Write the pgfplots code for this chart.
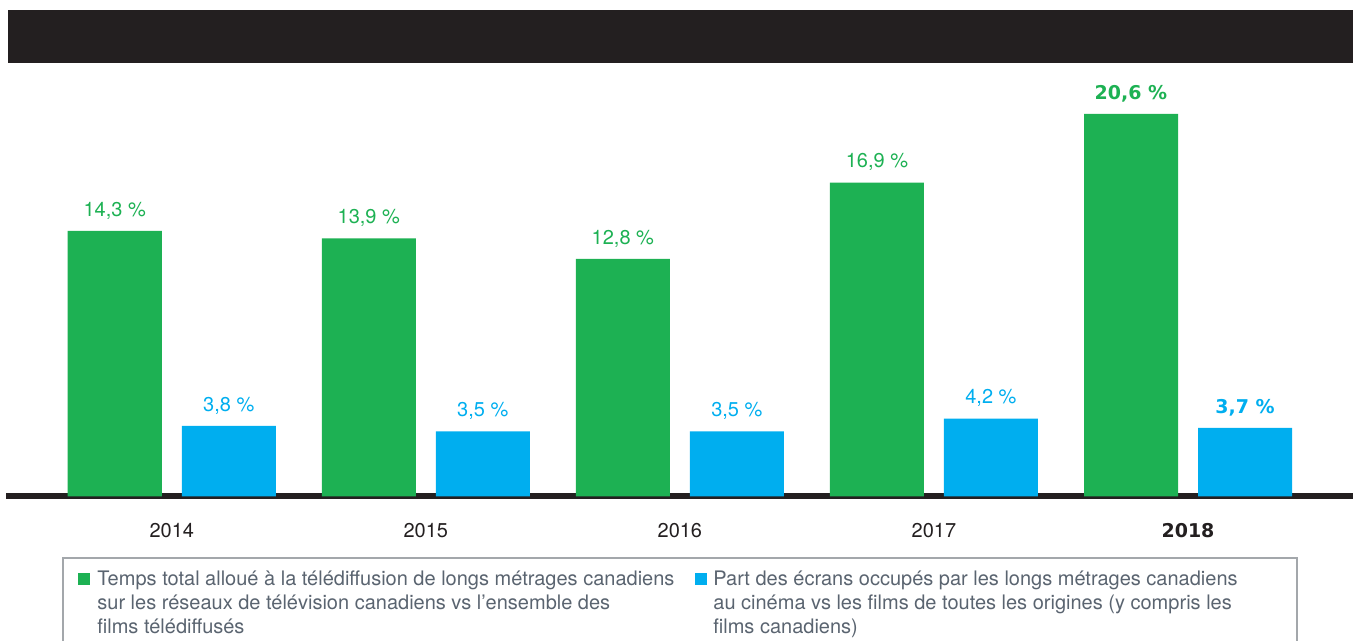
\documentclass[border=0pt]{standalone}
\usepackage{fontspec}
\setmainfont{TeX Gyre Heros}
\newfontfamily\heavy{DejaVu Sans}
\newcommand{\hv}[1]{{\heavy\bfseries\fontsize{9.5}{11}\selectfont #1}}
\usepackage{pgfplots}
\pgfplotsset{compat=1.18}
\definecolor{cgreen}{HTML}{1DB153}
\definecolor{cblue}{HTML}{00AEEF}
\definecolor{cblack}{HTML}{231F20}
\definecolor{lgray}{HTML}{A3A7AB}
\definecolor{ltext}{HTML}{5A6470}
\begin{document}
\begin{tikzpicture}
\begin{axis}[
  at={(0,0)}, anchor=south west,
  scale only axis, width=673.5pt, height=243.25pt,
  xmin=-0.6524, xmax=4.6495, ymin=0, ymax=26.198,
  axis x line*=bottom, axis y line=none,
  x axis line style={-, line width=3pt, draw=cblack},
  xtick={0,1,2,3,4},
  xticklabels={2014,2015,2016,2017,\hv{2018}},
  xtick style={draw=none}, major tick length=0pt,
  xticklabel style={anchor=base, yshift=-20.35pt, text=cblack},
  ytick=\empty,
  ybar, bar width=47pt,
  clip=false,
  point meta=explicit symbolic,
  nodes near coords,
  every node near coord/.append style={anchor=base, yshift=7.35pt},
  legend columns=2,
  legend style={at={(0.04232,-0.12641)}, anchor=north west, draw=none,
    inner xsep=7.5pt, inner ysep=6pt, text=ltext,
    nodes={inner sep=0pt, anchor=base west}, column sep=0pt},
  legend image code/.code={\fill[#1] (0pt,0pt) rectangle (6pt,6pt);},
]
\fill[cblack] (axis cs:-0.6445,23.344) rectangle (axis cs:4.6495,26.198);
\addplot[fill=cgreen, draw=none, bar shift=-28.5pt,
  every node near coord/.append style={text=cgreen}]
  coordinates {(0,14.3)[14,3~\%] (1,13.9)[13,9~\%] (2,12.8)[12,8~\%] (3,16.9)[16,9~\%] (4,20.6)[\hv{20,6~\%}]};
\addlegendentry{\hspace{3.5pt}\parbox[t]{299pt}{\fontsize{10}{12}\selectfont Temps total alloué à la télédiffusion de longs métrages canadiens\\ sur les réseaux de télévision canadiens vs l’ensemble des\\ films télédiffusés}}
\addplot[fill=cblue, draw=none, bar shift=28.5pt,
  every node near coord/.append style={text=cblue}]
  coordinates {(0,3.8)[3,8~\%] (1,3.5)[3,5~\%] (2,3.5)[3,5~\%] (3,4.2)[4,2~\%] (4,3.7)[\hv{3,7~\%}]};
\addlegendentry{\hspace{3pt}\parbox[t]{284.5pt}{\fontsize{10}{12}\selectfont Part des écrans occupés par les longs métrages canadiens\\ au cinéma vs les films de toutes les origines (y compris les\\ films canadiens)}}
\end{axis}
\draw[lgray, line width=0.7pt] (28.5pt,-90pt) -- (28.5pt,-30.75pt) -- (645.5pt,-30.75pt) -- (645.5pt,-90pt);
\pgfresetboundingbox
\path[use as bounding box] (-3pt,-72.25pt) rectangle (673.5pt,248.25pt);
\end{tikzpicture}
\end{document}
